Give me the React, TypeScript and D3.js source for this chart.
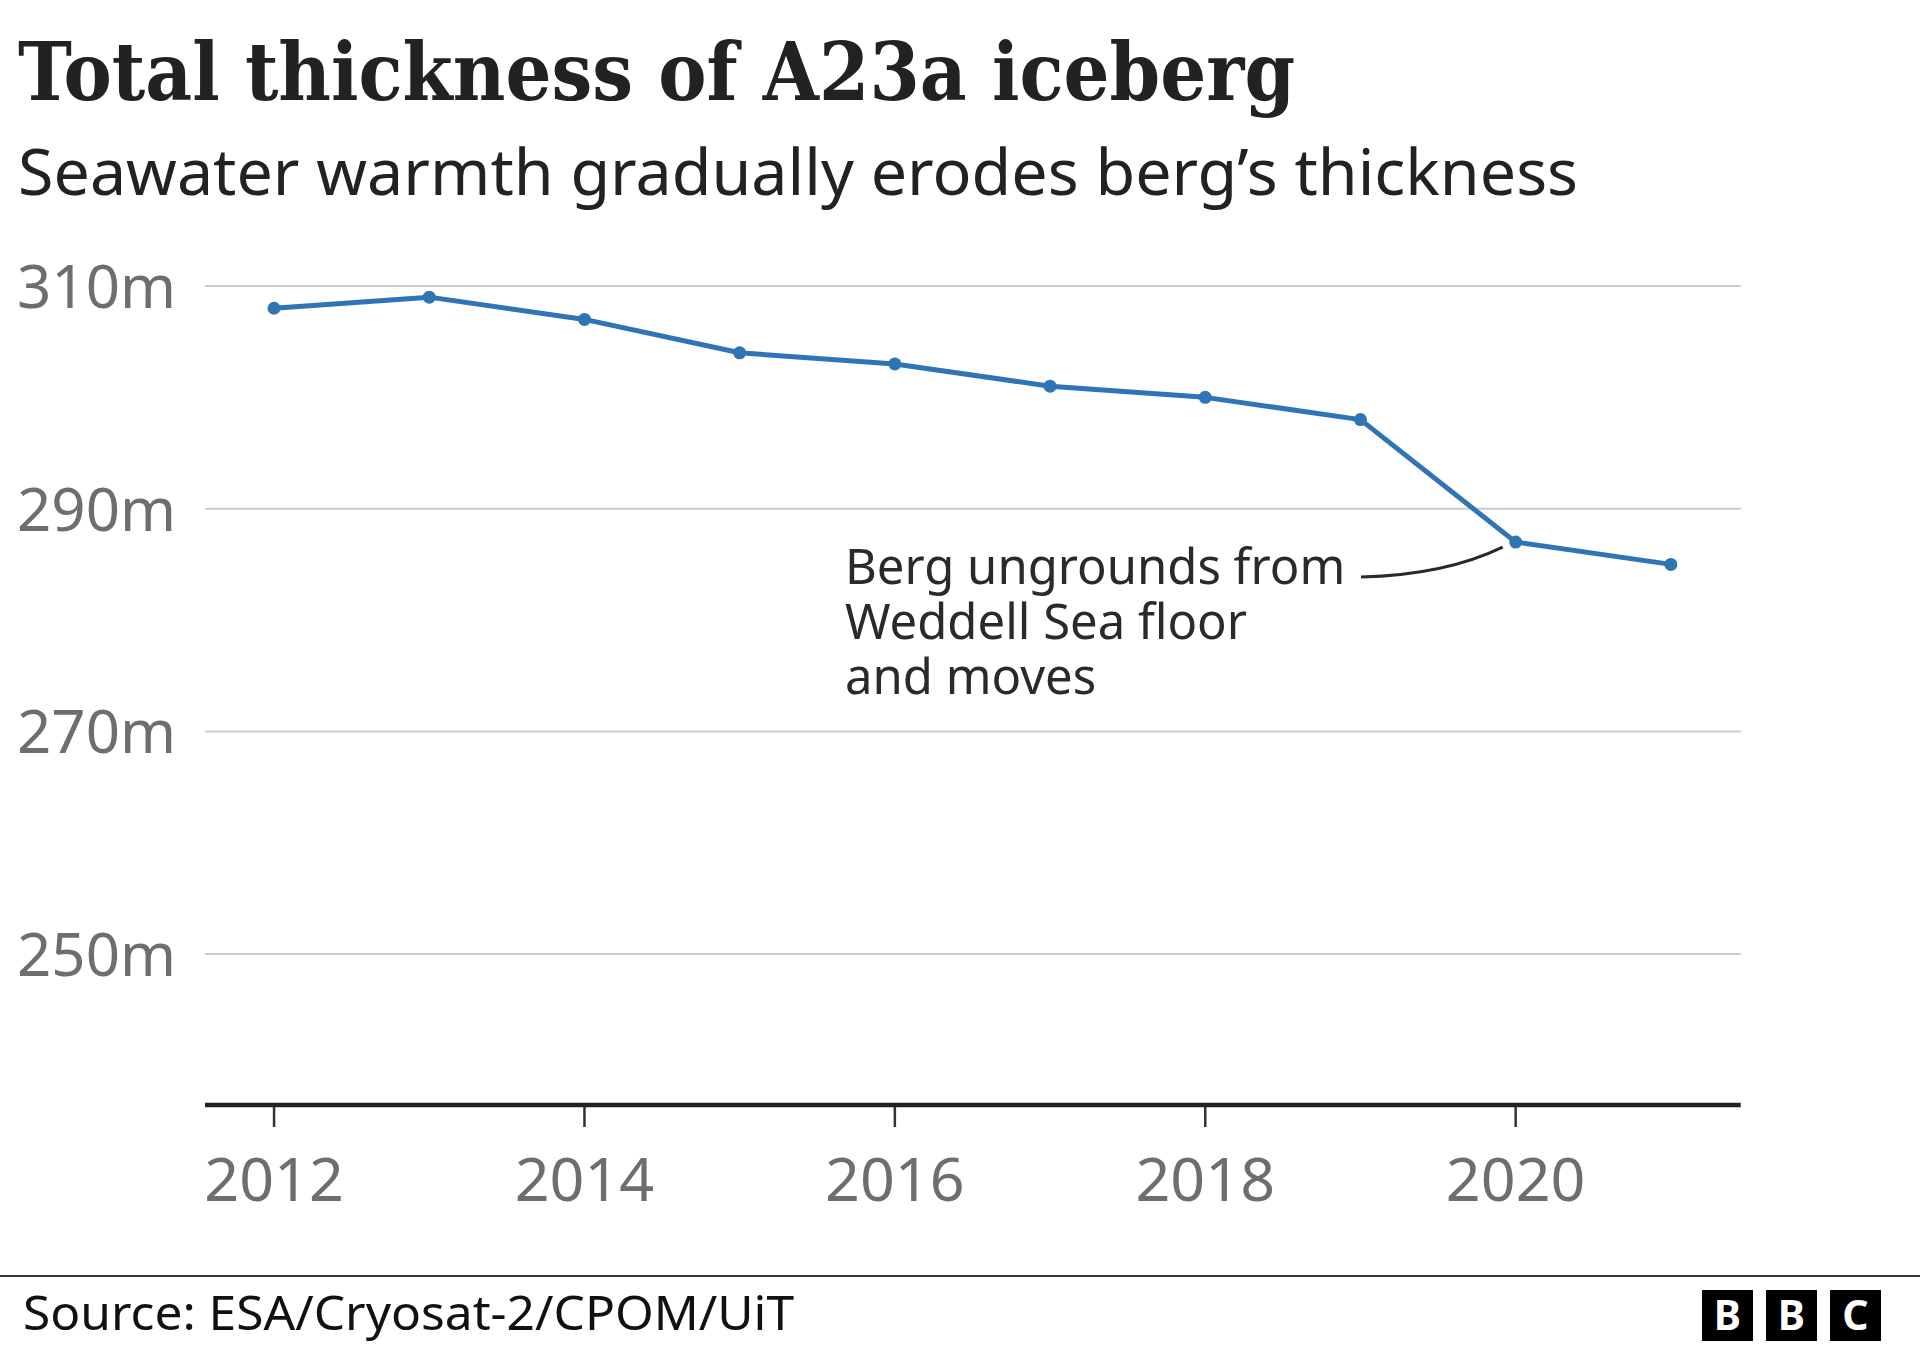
import React from "react";
import * as d3 from "d3";

const years = [2012, 2013, 2014, 2015, 2016, 2017, 2018, 2019, 2020, 2021];
const thickness = [308, 309, 307, 304, 303, 301, 300, 298, 287, 285];
const yTicks = [250, 270, 290, 310];
const xTicks = [2012, 2014, 2016, 2018, 2020];
const titleText = "Total thickness of A23a iceberg";
const subtitleText = "Seawater warmth gradually erodes berg\u2019s thickness";
const annotationLines = ["Berg ungrounds from", "Weddell Sea floor", "and moves"];
const sourceText = "Source: ESA/Cryosat-2/CPOM/UiT";

const W = 1920;
const H = 1350;
const SANS = "'Noto Sans', 'Open Sans', sans-serif";

export default function App() {
  const x = d3.scaleLinear().domain([2011.555, 2021.45]).range([205, 1740.7]);
  const y = d3.scaleLinear().domain([236.45, 310]).range([1105, 286]);
  const data = years.map((yr, i) => ({ yr, v: thickness[i] }));
  const line = d3
    .line<{ yr: number; v: number }>()
    .x((d) => x(d.yr))
    .y((d) => y(d.v));

  const p2020 = data.find((d) => d.yr === 2020)!;
  const cx = x(p2020.yr);
  const cy = y(p2020.v);
  const connector = `M1361,577 Q1445,575 ${cx - 13},${cy + 5}`;

  return (
    <svg
      width={W}
      height={H}
      style={{ position: "absolute", left: 0, top: 0, background: "#fff" }}
    >
      <rect width={W} height={H} fill="#fff" />
      <text
        x={18}
        y={100}
        fontFamily="'DejaVu Serif', serif"
        fontWeight={700}
        fontSize={80}
        fill="#222"
        textLength={1277}
        lengthAdjust="spacingAndGlyphs"
      >
        {titleText}
      </text>
      <text
        x={18}
        y={195}
        fontFamily={SANS}
        fontSize={63}
        fill="#222"
        textLength={1560}
        lengthAdjust="spacingAndGlyphs"
      >
        {subtitleText}
      </text>

      {yTicks.map((t) => (
        <g key={t}>
          <line
            x1={x.range()[0]}
            x2={x.range()[1]}
            y1={y(t)}
            y2={y(t)}
            stroke="#cccccc"
            strokeWidth={2}
          />
          <text
            x={17}
            y={y(t) + 22}
            fontFamily={SANS}
            fontSize={60}
            fill="#6e6e6e"
          >
            {t}m
          </text>
        </g>
      ))}

      <line
        x1={x.range()[0]}
        x2={x.range()[1]}
        y1={y.range()[0]}
        y2={y.range()[0]}
        stroke="#222"
        strokeWidth={4.5}
      />
      {xTicks.map((t) => (
        <g key={t}>
          <line
            x1={x(t)}
            x2={x(t)}
            y1={y.range()[0] + 2}
            y2={y.range()[0] + 22}
            stroke="#333"
            strokeWidth={2.5}
          />
          <text
            x={x(t)}
            y={1201}
            textAnchor="middle"
            fontFamily={SANS}
            fontSize={61}
            fill="#6e6e6e"
          >
            {t}
          </text>
        </g>
      ))}

      <path
        d={line(data) || ""}
        fill="none"
        stroke="#2f74b5"
        strokeWidth={5}
        strokeLinejoin="round"
      />
      {data.map((d) => (
        <circle key={d.yr} cx={x(d.yr)} cy={y(d.v)} r={6.5} fill="#2f74b5" />
      ))}

      {annotationLines.map((l, i) => (
        <text
          key={i}
          x={845}
          y={584 + i * 55}
          fontFamily={SANS}
          fontSize={49}
          fill="#2a2a2a"
        >
          {l}
        </text>
      ))}
      <path d={connector} fill="none" stroke="#2a2a2a" strokeWidth={3} />

      <line x1={0} x2={W} y1={1276} y2={1276} stroke="#333" strokeWidth={2} />
      <text
        x={23}
        y={1330}
        fontFamily={SANS}
        fontSize={48}
        fill="#111"
        textLength={771}
        lengthAdjust="spacingAndGlyphs"
      >
        {sourceText}
      </text>
      {["B", "B", "C"].map((c, i) => (
        <g key={i}>
          <rect x={1702 + i * 64} y={1290} width={51} height={51} fill="#000" />
          <text
            x={1702 + i * 64 + 25.5}
            y={1330}
            textAnchor="middle"
            fontFamily={SANS}
            fontWeight={700}
            fontSize={41}
            fill="#fff"
          >
            {c}
          </text>
        </g>
      ))}
    </svg>
  );
}
